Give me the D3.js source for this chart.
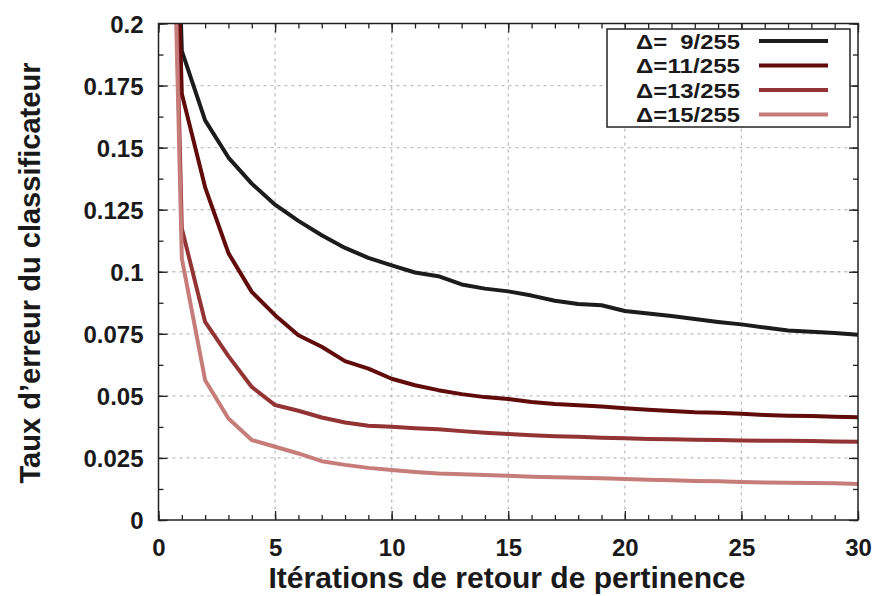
<!DOCTYPE html>
<html>
<head>
<meta charset="utf-8">
<script src="https://cdn.jsdelivr.net/npm/d3@7"></script>
<style>
  html, body { margin: 0; padding: 0; background: #fff; }
  svg { display: block; }
  text { font-family: "Liberation Sans", Arial, Helvetica, sans-serif; font-weight: bold; fill: #1a1a1a; }
</style>
</head>
<body>
<svg id="chart" width="879" height="596"></svg>
<script>
// ---- data ----
const iterations = d3.range(0, 31);
const seriesNames = ["\u0394=  9/255", "\u0394=11/255", "\u0394=13/255", "\u0394=15/255"];
const delta9 = [0.5, 0.189, 0.161, 0.146, 0.1355, 0.127, 0.1205, 0.1147, 0.1096, 0.1056, 0.1026, 0.0997, 0.0982, 0.0949, 0.0932, 0.0921, 0.0904, 0.0883, 0.0870, 0.0865, 0.0842, 0.0832, 0.0822, 0.0810, 0.0798, 0.0788, 0.0775, 0.0763, 0.0758, 0.0753, 0.0746];
const delta11 = [0.5, 0.1717, 0.134, 0.1075, 0.0919, 0.0825, 0.0744, 0.0698, 0.064, 0.061, 0.0569, 0.0543, 0.0523, 0.0507, 0.0495, 0.0487, 0.0475, 0.0467, 0.0462, 0.0457, 0.045, 0.0444, 0.0439, 0.0434, 0.0432, 0.0428, 0.0423, 0.042, 0.0419, 0.0416, 0.0414];
const delta13 = [0.5, 0.1174, 0.0798, 0.066, 0.0536, 0.0463, 0.044, 0.0413, 0.0393, 0.038, 0.0376, 0.037, 0.0366, 0.0358, 0.0351, 0.0346, 0.0341, 0.0337, 0.0335, 0.0331, 0.0329, 0.0326, 0.0325, 0.0323, 0.0322, 0.032, 0.0319, 0.0319, 0.0318, 0.0316, 0.0315];
const delta15 = [0.5, 0.1054, 0.0563, 0.0409, 0.0322, 0.0295, 0.0268, 0.0237, 0.0222, 0.021, 0.0201, 0.0193, 0.0187, 0.0184, 0.0181, 0.0178, 0.0174, 0.0172, 0.017, 0.0168, 0.0165, 0.0162, 0.016, 0.0157, 0.0156, 0.0153, 0.0151, 0.015, 0.0149, 0.0148, 0.0145];
const seriesValues = [delta9, delta11, delta13, delta15];
const seriesColors = ["#1c1c1c", "#620b0b", "#933333", "#c67c79"];
const xTicks = [0, 5, 10, 15, 20, 25, 30];
const yTicks = [0, 0.025, 0.05, 0.075, 0.1, 0.125, 0.15, 0.175, 0.2];
const yTickLabels = ["0", "0.025", "0.05", "0.075", "0.1", "0.125", "0.15", "0.175", "0.2"];
const xTitle = "It\u00e9rations de retour de pertinence";
const yTitle = "Taux d\u2019erreur du classificateur";

// ---- layout ----
const L = 158.5, R = 858, T = 23.5, B = 520;
const svg = d3.select("#chart");
const x = d3.scaleLinear().domain([0, 30]).range([L, R]);
const y = d3.scaleLinear().domain([0, 0.2]).range([B, T]);

svg.append("defs").append("clipPath").attr("id", "plotclip")
  .append("rect").attr("x", L).attr("y", T).attr("width", R - L).attr("height", B - T);

// grid
const grid = svg.append("g").attr("stroke", "#bdbdbd").attr("stroke-width", 1.3).attr("stroke-dasharray", "3,4");
grid.selectAll("line.vx").data(xTicks.filter(v => v > 0 && v < 30)).enter().append("line")
  .attr("x1", d => x(d)).attr("x2", d => x(d)).attr("y1", T).attr("y2", B);
grid.selectAll("line.hy").data(yTicks.filter(v => v > 0 && v < 0.2)).enter().append("line")
  .attr("y1", d => y(d)).attr("y2", d => y(d)).attr("x1", L).attr("x2", R);

// axes (ticks inward, mirrored)
const minorX = d3.range(0, 31);
const minorY = d3.range(0, 17).map(i => i * 0.0125);
function tickAxis(axisFn, scale, values, size, transform) {
  const g = svg.append("g").attr("transform", transform)
    .call(axisFn(scale).tickValues(values).tickSize(size).tickFormat(""));
  g.select(".domain").remove();
  g.selectAll(".tick line").attr("stroke", "#222").attr("stroke-width", 1.3);
  return g;
}
tickAxis(d3.axisTop, x, minorX, 5, `translate(0,${B})`);
tickAxis(d3.axisTop, x, xTicks, 9, `translate(0,${B})`);
tickAxis(d3.axisBottom, x, minorX, 5, `translate(0,${T})`);
tickAxis(d3.axisBottom, x, xTicks, 9, `translate(0,${T})`);
tickAxis(d3.axisRight, y, minorY, 5, `translate(${L},0)`);
tickAxis(d3.axisRight, y, yTicks, 9, `translate(${L},0)`);
tickAxis(d3.axisLeft, y, minorY, 5, `translate(${R},0)`);
tickAxis(d3.axisLeft, y, yTicks, 9, `translate(${R},0)`);

// tick labels
const fontFam = '"Liberation Sans", Arial, sans-serif';
const xl = svg.append("g").call(d3.axisBottom(x).tickValues(xTicks).tickSize(0).tickPadding(0).tickFormat(d3.format("d")))
  .attr("transform", `translate(0,${B})`);
xl.select(".domain").remove();
xl.selectAll("text").attr("y", 36).attr("dy", null).style("font-size", "24px").attr("fill", "#1a1a1a")
  .style("font-family", fontFam).style("font-weight", "bold");

const yl = svg.append("g").call(d3.axisLeft(y).tickValues(yTicks).tickSize(0).tickPadding(0).tickFormat((d, i) => yTickLabels[i]))
  .attr("transform", `translate(${L - 15},0)`);
yl.select(".domain").remove();
yl.selectAll("text").attr("dy", "0.36em").style("font-size", "24px").attr("fill", "#1a1a1a")
  .style("font-family", fontFam).style("font-weight", "bold");

// lines
const line = d3.line().x((d, i) => x(iterations[i])).y(d => y(d));
svg.append("g").attr("clip-path", "url(#plotclip)")
  .selectAll("path").data(seriesValues).enter().append("path")
  .attr("d", line).attr("fill", "none")
  .attr("stroke", (d, i) => seriesColors[i]).attr("stroke-width", 4)
  .attr("stroke-linejoin", "round");

// frame
svg.append("rect").attr("x", L).attr("y", T).attr("width", R - L).attr("height", B - T)
  .attr("fill", "none").attr("stroke", "#222").attr("stroke-width", 1.5);

// legend
const lg = svg.append("g");
lg.append("rect").attr("x", 607).attr("y", 29).attr("width", 243).attr("height", 98)
  .attr("fill", "#fff").attr("stroke", "#222").attr("stroke-width", 1.5);
const rowY = d3.scalePoint().domain(seriesNames).range([41, 114.5]);
const rows = lg.selectAll("g.row").data(seriesNames).enter().append("g");
rows.append("text").attr("x", 740).attr("y", d => rowY(d)).attr("dy", "0.36em")
  .attr("text-anchor", "end").style("font-size", "21px").style("white-space", "pre")
  .attr("xml:space", "preserve").attr("textLength", 104).attr("lengthAdjust", "spacingAndGlyphs")
  .text(d => d);
rows.append("line").attr("x1", 759).attr("x2", 828)
  .attr("y1", d => rowY(d)).attr("y2", d => rowY(d))
  .attr("stroke", (d, i) => seriesColors[i]).attr("stroke-width", 4);

// axis titles
svg.append("text").attr("x", 507).attr("y", 588).attr("text-anchor", "middle")
  .style("font-size", "29px").attr("textLength", 477).attr("lengthAdjust", "spacingAndGlyphs").text(xTitle);
svg.append("text").attr("transform", "translate(40,273) rotate(-90)").attr("text-anchor", "middle")
  .style("font-size", "29px").attr("textLength", 421).attr("lengthAdjust", "spacingAndGlyphs").text(yTitle);
</script>
</body>
</html>
